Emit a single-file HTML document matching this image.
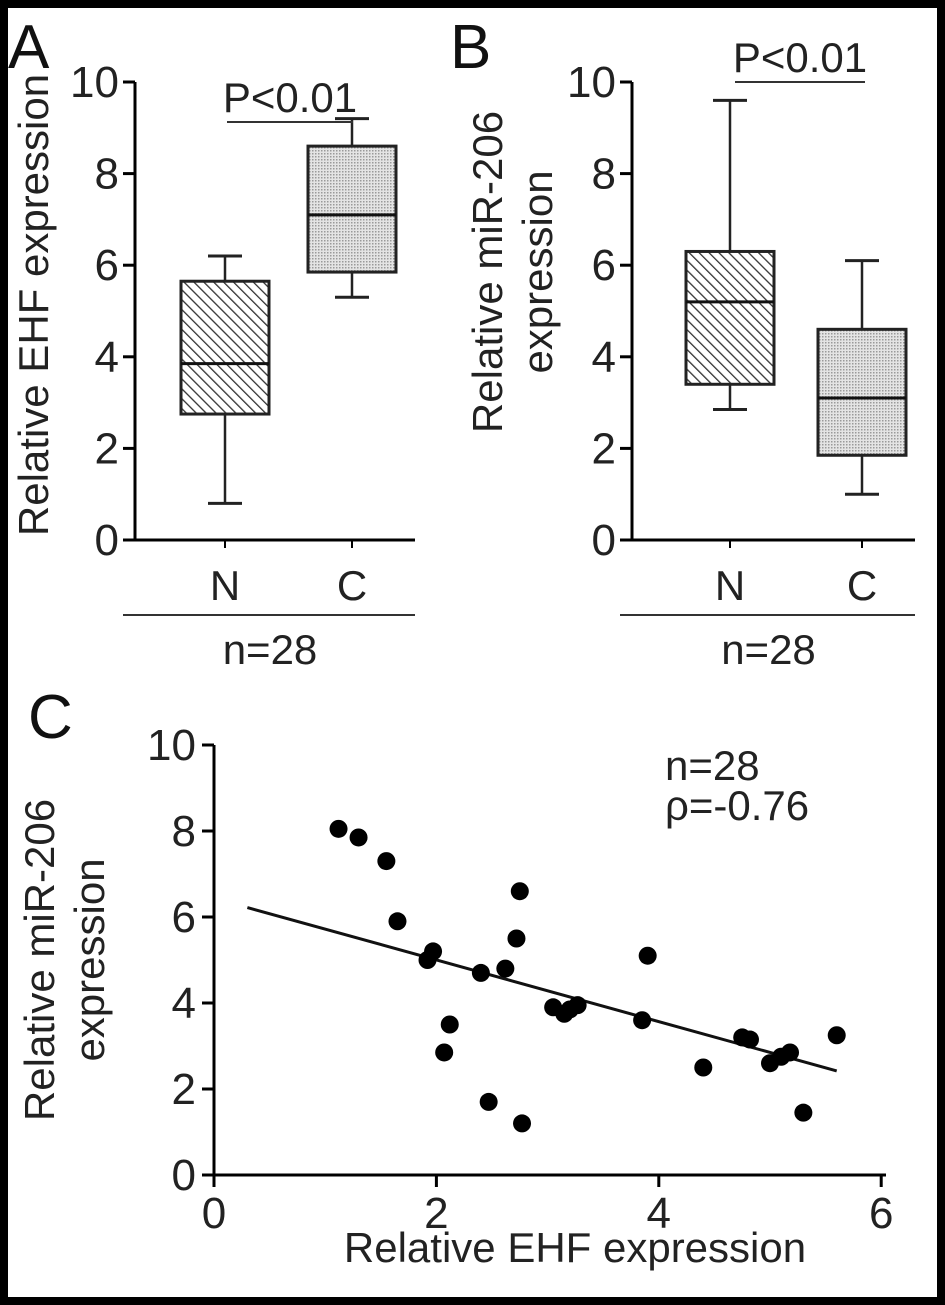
<!DOCTYPE html>
<html><head><meta charset="utf-8"><style>
html,body{margin:0;padding:0;background:#000;}
svg{display:block;font-family:"Liberation Sans",Arial,sans-serif;}
</style></head><body>
<svg id="fig" width="945" height="1305" viewBox="0 0 945 1305">
<defs>
<pattern id="hatch" patternUnits="userSpaceOnUse" width="7" height="7" patternTransform="rotate(-45)">
<rect width="7" height="7" fill="#fff"/><line x1="0" y1="0" x2="0" y2="7" stroke="#333" stroke-width="2.6"/></pattern>
<pattern id="dots" patternUnits="userSpaceOnUse" width="3" height="3">
<rect width="3" height="3" fill="#e4e4e4"/><rect width="1.5" height="1.5" fill="#9a9a9a"/></pattern>
</defs>
<rect x="8" y="8" width="929" height="1289" fill="#fff"/>
<g id="gA"></g>
<g id="gB"></g>
<g id="gC"></g>
</svg>
<script>
const groups = ["N","C"];
const ehfN = [0.8,2.75,3.85,5.65,6.2];
const ehfC = [5.3,5.85,7.1,8.6,9.2];
const mirN = [2.85,3.4,5.2,6.3,9.6];
const mirC = [1.0,1.85,3.1,4.6,6.1];
const yTicks = [0,2,4,6,8,10];
const scatX = [1.12,1.3,1.55,1.65,1.92,1.97,2.07,2.12,2.4,2.47,2.62,2.72,2.75,2.77,3.05,3.15,3.2,3.27,3.85,3.9,4.4,4.75,4.82,5.0,5.1,5.18,5.3,5.6];
const scatY = [8.05,7.85,7.3,5.9,5.0,5.2,2.85,3.5,4.7,1.7,4.8,5.5,6.6,1.2,3.9,3.75,3.85,3.95,3.6,5.1,2.5,3.2,3.15,2.6,2.75,2.85,1.45,3.25];
const fitX = [0.3,5.6];
const fitY = [6.22,2.42];
const xTicksC = [0,2,4,6];
const NS="http://www.w3.org/2000/svg";
const FS=42, TFS=44;
function mk(parent,tag,attrs,text){const e=document.createElementNS(NS,tag);for(const k in attrs)e.setAttribute(k,attrs[k]);if(text!==undefined)e.textContent=text;parent.appendChild(e);return e;}

function boxPanel(g, ax, xEnd, cats, boxes, fills, pY, pX1, pX2, titleLines, titleXs, labelX, label){
  const y=v=>540-v*45.8;
  let e;
  e=mk(g,"line",{x1:ax,y1:y(10),x2:ax,y2:y(0),stroke:"#000","stroke-width":3});
  
  e=mk(g,"line",{x1:ax-10,y1:y(0),x2:xEnd,y2:y(0),stroke:"#000","stroke-width":3});
  
  yTicks.forEach(t=>{
    e=mk(g,"line",{x1:ax-12,y1:y(t),x2:ax,y2:y(t),stroke:"#000","stroke-width":3});
    
    e=mk(g,"text",{x:ax-16,y:y(t)+15,"text-anchor":"end","font-size":TFS,fill:"#222"},t);
    
  });
  boxes.forEach((b,i)=>{
    const cx=cats[i], hw=44;
    e=mk(g,"line",{x1:cx,y1:y(b[0]),x2:cx,y2:y(b[4]),stroke:"#222","stroke-width":2.5});
    
    [b[0],b[4]].forEach(v=>{e=mk(g,"line",{x1:cx-17,y1:y(v),x2:cx+17,y2:y(v),stroke:"#222","stroke-width":3});
      });
    e=mk(g,"rect",{x:cx-hw,y:y(b[3]),width:2*hw,height:y(b[1])-y(b[3]),fill:fills[i],stroke:"#222","stroke-width":3});
    
    e=mk(g,"line",{x1:cx-hw,y1:y(b[2]),x2:cx+hw,y2:y(b[2]),stroke:"#111","stroke-width":3});
    
    e=mk(g,"line",{x1:cx,y1:y(0),x2:cx,y2:y(0)+8,stroke:"#000","stroke-width":2});
    
    e=mk(g,"text",{x:cx,y:600,"text-anchor":"middle","font-size":FS,fill:"#222"},groups[i]);
    
  });
  e=mk(g,"line",{x1:pX1,y1:pY,x2:pX2,y2:pY,stroke:"#333","stroke-width":2});
  
  e=mk(g,"text",{x:(pX1+pX2)/2,y:pY-10,"text-anchor":"middle","font-size":FS,fill:"#222"},"P<0.01");
  
  e=mk(g,"line",{x1:ax-12,y1:615,x2:xEnd,y2:615,stroke:"#333","stroke-width":2});
  
  e=mk(g,"text",{x:(ax+xEnd)/2-5,y:664,"text-anchor":"middle","font-size":FS,fill:"#222"},"n=28");
  
  titleLines.forEach((t,i)=>{
    e=mk(g,"text",{x:0,y:0,"text-anchor":"middle","font-size":FS,fill:"#222",transform:`translate(${titleXs[i]},${titleLines.length===1?305:272}) rotate(-90)`},t);
    
  });
  e=mk(g,"text",{x:labelX,y:68,"font-size":62,fill:"#111"},label);
  
}
boxPanel(document.getElementById("gA"),135,415,[225,352],[ehfN,ehfC],["url(#hatch)","url(#dots)"],122,227,353,["Relative EHF expression"],[48],8,"A");
boxPanel(document.getElementById("gB"),632,915,[730,862],[mirN,mirC],["url(#hatch)","url(#dots)"],82,735,865,["Relative miR-206","expression"],[502,552],450,"B");

(function(){
  const g=document.getElementById("gC");
  const X=v=>214+v*111.2, Y=v=>1175-v*43;
  let e;
  e=mk(g,"line",{x1:214,y1:Y(10),x2:214,y2:Y(0)+8,stroke:"#000","stroke-width":3});
  
  e=mk(g,"line",{x1:202,y1:Y(0),x2:886,y2:Y(0),stroke:"#000","stroke-width":3});
  
  yTicks.forEach(t=>{
    e=mk(g,"line",{x1:202,y1:Y(t),x2:214,y2:Y(t),stroke:"#000","stroke-width":3});
    
    e=mk(g,"text",{x:196,y:Y(t)+15,"text-anchor":"end","font-size":TFS,fill:"#222"},t);
    
  });
  xTicksC.forEach(t=>{
    e=mk(g,"line",{x1:X(t),y1:Y(0),x2:X(t),y2:Y(0)+12,stroke:"#000","stroke-width":3});
    
    e=mk(g,"text",{x:X(t),y:1228,"text-anchor":"middle","font-size":TFS,fill:"#222"},t);
    
  });
  e=mk(g,"line",{x1:X(fitX[0]),y1:Y(fitY[0]),x2:X(fitX[1]),y2:Y(fitY[1]),stroke:"#111","stroke-width":3});
  
  scatX.forEach((v,i)=>{
    e=mk(g,"circle",{cx:X(v),cy:Y(scatY[i]),r:9,fill:"#000"});
    
  });
  e=mk(g,"text",{x:665,y:780,"font-size":FS,fill:"#222"},"n=28");
  
  e=mk(g,"text",{x:665,y:820,"font-size":FS,fill:"#222"},"ρ=-0.76");
  
  e=mk(g,"text",{x:575,y:1262,"text-anchor":"middle","font-size":FS,fill:"#222"},"Relative EHF expression");
  
  [["Relative miR-206",54],["expression",104]].forEach(p=>{
    e=mk(g,"text",{x:0,y:0,"text-anchor":"middle","font-size":FS,fill:"#222",transform:`translate(${p[1]},960) rotate(-90)`},p[0]);
    
  });
  e=mk(g,"text",{x:28,y:738,"font-size":62,fill:"#111"},"C");
  
})();
</script>
</body></html>
